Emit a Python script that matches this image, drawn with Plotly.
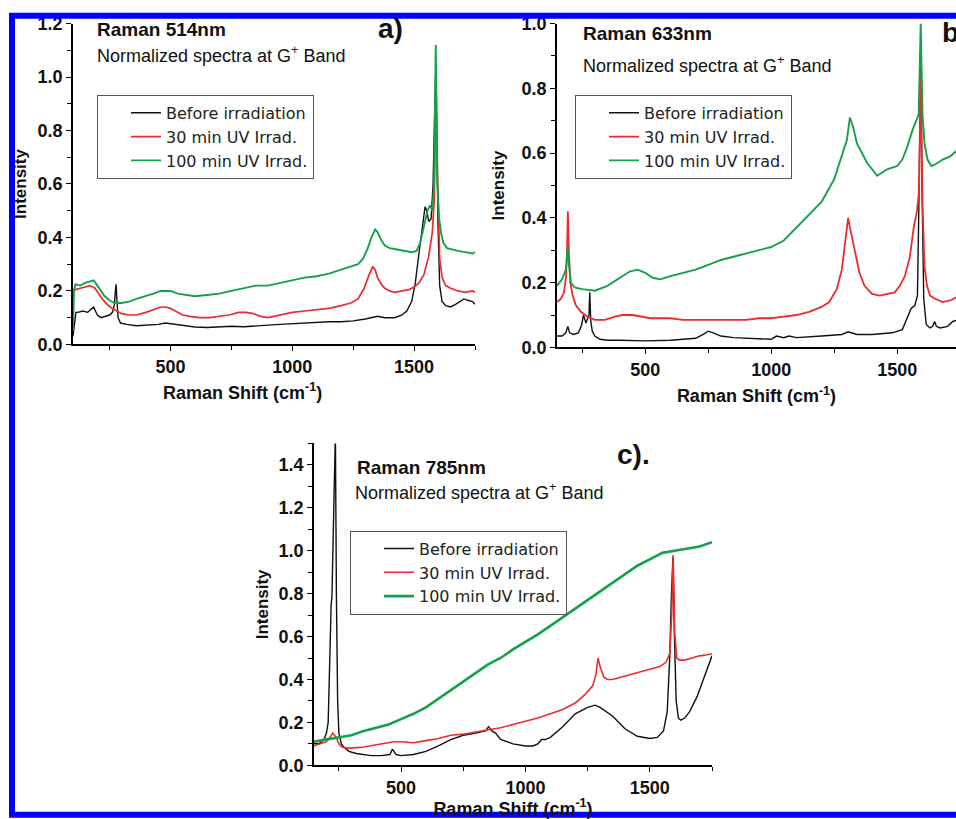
import plotly.graph_objects as go

# ---------------- Data ----------------
series_names = ["Before irradiation", "30 min UV Irrad.", "100 min UV Irrad."]
series_colors = ["#111111", "#ee2b2b", "#15a04a"]

# Panel a) Raman 514nm
a_x_before = [100,105,112,120,140,160,175,185,192,200,215,230,250,262,270,274,277,280,285,295,320,360,400,450,480,520,560,600,650,700,750,800,850,900,950,1000,1050,1100,1150,1200,1250,1300,1330,1350,1380,1420,1450,1470,1490,1505,1520,1535,1545,1552,1560,1570,1578,1584,1588,1592,1598,1605,1615,1630,1650,1670,1690,1705,1720,1740,1750]
a_y_before = [0.03,0.08,0.12,0.12,0.125,0.12,0.13,0.14,0.125,0.11,0.10,0.105,0.11,0.12,0.15,0.20,0.225,0.17,0.10,0.08,0.075,0.07,0.072,0.075,0.08,0.075,0.068,0.065,0.063,0.065,0.068,0.066,0.07,0.072,0.075,0.078,0.08,0.082,0.085,0.085,0.088,0.095,0.10,0.105,0.10,0.10,0.11,0.125,0.16,0.23,0.34,0.46,0.515,0.50,0.46,0.47,0.6,0.85,1.0,0.85,0.45,0.22,0.16,0.145,0.14,0.15,0.16,0.17,0.165,0.16,0.15]
a_x_30 = [100,110,130,150,170,190,205,220,240,260,280,300,330,360,400,430,460,480,500,520,550,580,620,660,700,740,780,810,840,870,900,950,1000,1050,1100,1150,1200,1240,1270,1295,1315,1330,1340,1350,1365,1380,1400,1420,1450,1480,1500,1520,1540,1560,1575,1583,1590,1597,1605,1615,1630,1650,1680,1710,1740,1750]
a_y_30 = [0.20,0.205,0.21,0.215,0.22,0.21,0.19,0.17,0.15,0.135,0.125,0.115,0.11,0.11,0.12,0.13,0.14,0.14,0.135,0.125,0.11,0.105,0.10,0.10,0.105,0.11,0.12,0.12,0.115,0.105,0.10,0.11,0.12,0.125,0.13,0.135,0.145,0.155,0.17,0.21,0.26,0.29,0.28,0.25,0.225,0.21,0.2,0.195,0.2,0.205,0.215,0.23,0.26,0.33,0.42,0.55,1.0,0.6,0.32,0.25,0.22,0.21,0.2,0.195,0.2,0.195]
a_x_100 = [100,104,110,130,150,170,185,200,215,230,250,270,300,330,360,400,430,460,480,500,530,560,600,650,700,750,800,850,900,950,1000,1050,1100,1150,1200,1240,1270,1290,1310,1325,1340,1350,1365,1380,1400,1430,1460,1490,1510,1525,1540,1555,1565,1575,1582,1589,1595,1602,1610,1620,1635,1655,1680,1710,1740,1750]
a_y_100 = [0.05,0.2,0.225,0.22,0.23,0.235,0.24,0.22,0.2,0.18,0.165,0.155,0.155,0.16,0.17,0.18,0.19,0.2,0.2,0.2,0.19,0.185,0.18,0.185,0.19,0.2,0.21,0.22,0.22,0.23,0.24,0.25,0.255,0.265,0.28,0.29,0.3,0.32,0.36,0.4,0.43,0.42,0.39,0.37,0.36,0.355,0.35,0.345,0.35,0.38,0.44,0.5,0.52,0.5,0.6,1.12,0.62,0.48,0.42,0.38,0.36,0.355,0.35,0.345,0.34,0.345]

# Panel b) Raman 633nm
b_x_before = [150,170,185,193,200,215,235,248,255,260,265,272,277,280,284,290,300,320,350,400,500,600,700,730,750,770,800,850,900,1000,1020,1050,1070,1100,1200,1280,1305,1320,1340,1400,1480,1520,1540,1555,1570,1580,1587,1593,1598,1605,1615,1630,1640,1648,1655,1670,1700,1720,1740,1750]
b_y_before = [0.035,0.035,0.045,0.065,0.045,0.04,0.045,0.07,0.1,0.085,0.075,0.09,0.1,0.17,0.08,0.05,0.035,0.025,0.022,0.022,0.02,0.022,0.028,0.04,0.05,0.045,0.035,0.03,0.028,0.025,0.035,0.03,0.035,0.03,0.035,0.04,0.048,0.045,0.04,0.04,0.045,0.055,0.09,0.12,0.13,0.16,0.5,0.9,0.5,0.15,0.07,0.06,0.065,0.08,0.065,0.06,0.065,0.08,0.085,0.085]
b_x_30 = [150,165,178,186,190,193,197,203,212,225,245,270,300,340,380,410,450,480,520,560,600,650,700,750,800,850,900,950,1000,1050,1100,1150,1200,1230,1260,1280,1295,1305,1315,1330,1350,1370,1400,1430,1460,1490,1510,1530,1550,1565,1578,1586,1593,1600,1608,1618,1630,1650,1680,1710,1735,1750]
b_y_30 = [0.14,0.15,0.17,0.22,0.3,0.42,0.3,0.2,0.16,0.13,0.11,0.095,0.085,0.085,0.095,0.1,0.1,0.095,0.09,0.09,0.09,0.085,0.085,0.085,0.085,0.085,0.085,0.09,0.09,0.095,0.1,0.11,0.125,0.14,0.18,0.24,0.33,0.4,0.36,0.3,0.23,0.19,0.165,0.16,0.165,0.17,0.19,0.22,0.28,0.37,0.42,0.48,0.85,0.45,0.25,0.19,0.16,0.15,0.14,0.145,0.155,0.16]
b_x_100 = [150,170,185,190,193,197,205,220,250,300,350,400,440,470,500,530,560,600,650,700,750,800,850,900,950,1000,1050,1100,1150,1200,1250,1280,1300,1312,1325,1340,1360,1380,1400,1420,1440,1460,1480,1500,1520,1540,1560,1575,1585,1593,1600,1608,1620,1635,1650,1680,1710,1740]
b_y_100 = [0.19,0.21,0.24,0.28,0.31,0.26,0.2,0.185,0.18,0.175,0.19,0.215,0.235,0.24,0.23,0.215,0.21,0.22,0.23,0.24,0.255,0.27,0.28,0.29,0.3,0.31,0.33,0.37,0.41,0.45,0.52,0.59,0.64,0.71,0.68,0.63,0.6,0.57,0.55,0.53,0.54,0.55,0.555,0.56,0.58,0.62,0.67,0.7,0.72,1.0,0.72,0.63,0.58,0.56,0.565,0.58,0.59,0.61]

# Panel c) Raman 785nm
c_x_before = [150,170,190,200,207,212,215,219,222,228,232,236,240,245,250,260,270,290,320,350,380,420,455,465,472,480,500,550,600,650,700,750,800,840,852,865,880,900,950,1000,1030,1050,1065,1080,1100,1150,1200,1250,1280,1300,1350,1400,1450,1500,1530,1555,1570,1580,1587,1593,1599,1606,1615,1625,1640,1660,1690,1720,1750]
c_y_before = [0.1,0.1,0.12,0.15,0.2,0.45,0.5,0.75,0.78,1.2,1.55,1.55,0.8,0.3,0.15,0.1,0.085,0.065,0.055,0.05,0.045,0.045,0.05,0.075,0.06,0.05,0.045,0.05,0.065,0.09,0.12,0.14,0.15,0.16,0.18,0.16,0.15,0.12,0.1,0.09,0.09,0.1,0.12,0.12,0.13,0.18,0.24,0.27,0.28,0.27,0.23,0.17,0.135,0.125,0.13,0.16,0.25,0.5,0.8,0.97,0.6,0.3,0.22,0.21,0.22,0.25,0.32,0.42,0.51]
c_x_30 = [150,180,200,215,225,232,240,250,262,280,300,350,400,450,470,500,550,600,650,700,750,800,850,900,950,1000,1050,1100,1150,1200,1240,1270,1283,1292,1300,1315,1330,1350,1400,1450,1500,1540,1565,1580,1588,1594,1600,1608,1620,1640,1670,1700,1730,1750]
c_y_30 = [0.09,0.1,0.11,0.13,0.15,0.14,0.13,0.1,0.085,0.08,0.08,0.085,0.095,0.105,0.11,0.11,0.105,0.115,0.125,0.14,0.145,0.155,0.165,0.175,0.19,0.205,0.22,0.24,0.26,0.29,0.33,0.37,0.42,0.5,0.46,0.41,0.4,0.4,0.415,0.43,0.445,0.46,0.48,0.52,0.7,0.98,0.62,0.5,0.49,0.49,0.5,0.51,0.515,0.52]
c_x_100 = [150,200,250,300,350,400,450,500,550,600,650,700,750,800,850,900,950,1000,1050,1100,1150,1200,1250,1300,1350,1400,1450,1500,1550,1600,1650,1700,1750]
c_y_100 = [0.11,0.12,0.13,0.14,0.16,0.175,0.19,0.215,0.24,0.27,0.31,0.35,0.39,0.43,0.47,0.5,0.54,0.575,0.61,0.65,0.69,0.73,0.77,0.81,0.85,0.89,0.93,0.96,0.99,1.0,1.01,1.02,1.04]

panels = [
    dict(xs=[a_x_before, a_x_30, a_x_100], ys=[a_y_before, a_y_30, a_y_100], widths=[1.4, 1.7, 1.9]),
    dict(xs=[b_x_before, b_x_30, b_x_100], ys=[b_y_before, b_y_30, b_y_100], widths=[1.4, 1.8, 1.9]),
    dict(xs=[c_x_before, c_x_30, c_x_100], ys=[c_y_before, c_y_30, c_y_100], widths=[1.4, 1.6, 2.6]),
]

# ---------------- Figure ----------------
W, H = 956, 819
FONT = "Liberation Sans, Arial, Helvetica, sans-serif"
LEGEND_FONT = "DejaVu Sans, Liberation Sans, sans-serif"

# The captured page shows the figure slightly squeezed vertically
# (about 0.979 with a ~7 px top offset); positions below are given in
# target screen pixels and mapped back to paper fractions.
V_OFF, V_SCALE = 7.3, 0.979

def px(x):
    return x / W

def py(y):
    return 1 - ((y - V_OFF) / V_SCALE) / H

fig = go.Figure()
suffix = ["", "2", "3"]
legend_ids = ["legend", "legend2", "legend3"]
for i, p in enumerate(panels):
    for j in range(3):
        fig.add_trace(go.Scatter(
            x=p["xs"][j], y=p["ys"][j], mode="lines",
            name=series_names[j],
            line=dict(color=series_colors[j], width=p["widths"][j]),
            xaxis="x" + suffix[i], yaxis="y" + suffix[i],
            legend=legend_ids[i], showlegend=True,
        ))

def xaxis_style(domain, rng, title=None, standoff=10, anchor="y"):
    d = dict(domain=domain, range=rng, anchor=anchor,
             showline=True, linecolor="black", linewidth=1.5,
             ticks="outside", ticklen=5, tickwidth=1.3, tickcolor="black",
             tick0=0, dtick=500, showgrid=False, zeroline=False,
             minor=dict(ticks="outside", ticklen=4, tickwidth=1.2, tickcolor="black", dtick=250, showgrid=False),
             tickfont=dict(family=FONT, size=18, color="#111", weight="bold"))
    if title:
        d["title"] = dict(text=title, standoff=standoff,
                          font=dict(family=FONT, size=18, color="#111", weight="bold"))
    return d

def yaxis_style(domain, rng, anchor, standoff):
    return dict(domain=domain, range=rng, anchor=anchor,
                showline=True, linecolor="black", linewidth=1.5,
                ticks="outside", ticklen=5, tickwidth=1.3, tickcolor="black",
                tick0=0, dtick=0.2, tickformat=".1f", showgrid=False, zeroline=False,
                minor=dict(ticks="outside", ticklen=4, tickwidth=1.2, tickcolor="black", dtick=0.1, showgrid=False),
                tickfont=dict(family=FONT, size=18, color="#111", weight="bold"),
                title=dict(text="Intensity", standoff=standoff,
                           font=dict(family=FONT, size=17, color="#111", weight="bold")))

legend_common = dict(bgcolor="rgba(255,255,255,0)", bordercolor="#555", borderwidth=1,
                     font=dict(family=LEGEND_FONT, size=16, color="#222"),
                     xanchor="left", yanchor="top", indentation=28, tracegroupgap=0)

fig.update_layout(
    width=W, height=H, autosize=False,
    margin=dict(l=0, r=0, t=0, b=0),
    paper_bgcolor="white", plot_bgcolor="white",
    font=dict(family=FONT, color="#111"),
    xaxis=xaxis_style([px(73), px(475)], [100, 1750], anchor="y"),
    yaxis=yaxis_style([py(345), py(21)], [0, 1.2], "x", 7),
    xaxis2=xaxis_style([px(557), 1.0], [150, 1733], title="Raman Shift (cm<sup>-1</sup>)", standoff=11, anchor="y2"),
    yaxis2=yaxis_style([py(348), py(21)], [0, 1.0], "x2", 13),
    xaxis3=xaxis_style([px(314), px(712)], [150, 1750], title="Raman Shift (cm<sup>-1</sup>)", standoff=9, anchor="y3"),
    yaxis3=yaxis_style([py(770), py(445)], [0, 1.5], "x3", 6),
    legend=dict(x=px(97), y=py(93), **legend_common),
    legend2=dict(x=px(575), y=py(93), **legend_common),
    legend3=dict(x=px(350), y=py(533), **legend_common),
    showlegend=True,
)

def add_text(x, y, text, size, bold=False, xanchor="left"):
    fig.add_annotation(xref="paper", yref="paper", x=px(x), y=py(y), text=text,
                       showarrow=False, xanchor=xanchor, yanchor="middle",
                       font=dict(family=FONT, size=size, color="#111", weight="bold" if bold else "normal"))

# Panel a texts
add_text(95, 27, "Raman 514nm", 19, bold=True)
add_text(95, 52, "Normalized spectra at G<sup>+</sup> Band", 18)
add_text(376, 26, "a)", 28, bold=True)
add_text(242, 393, "Raman Shift (cm<sup>-1</sup>)", 18, bold=True, xanchor="center")
# Panel b texts
add_text(581, 31, "Raman 633nm", 19, bold=True)
add_text(581, 62, "Normalized spectra at G<sup>+</sup> Band", 18)
add_text(940, 30, "b)", 28, bold=True)
# Panel c texts
add_text(355, 469, "Raman 785nm", 19, bold=True)
add_text(353, 494, "Normalized spectra at G<sup>+</sup> Band", 18)
add_text(615, 456, "c).", 28, bold=True)

# Blue frame around the figure
fig.add_shape(type="rect", xref="paper", yref="paper",
              x0=px(12), x1=1.05, y0=py(820), y1=py(13),
              line=dict(color="#0000ff", width=6), fillcolor="rgba(0,0,0,0)", layer="above")

fig.write_html("out.html")
